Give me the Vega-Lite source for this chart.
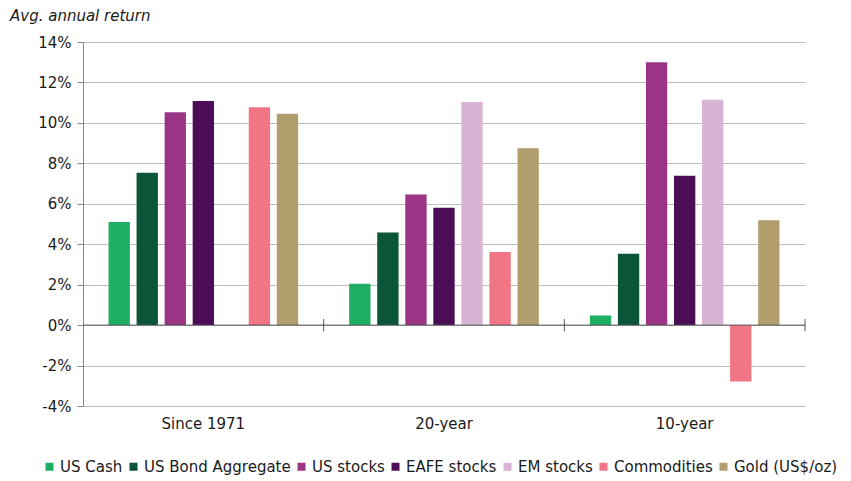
{
  "$schema": "https://vega.github.io/schema/vega-lite/v6.json",
  "width": 722,
  "height": 364,
  "autosize": {"type": "none"},
  "padding": {"left": 83, "top": 42, "right": 46, "bottom": 75},
  "background": "white",
  "title": {
    "text": "Avg. annual return",
    "anchor": "start",
    "frame": "group",
    "dx": -73,
    "offset": 11,
    "font": "DejaVu Sans",
    "fontSize": 15,
    "fontStyle": "italic",
    "fontWeight": "normal",
    "color": "#1a1a1a"
  },
  "config": {
    "view": {"stroke": null},
    "font": "DejaVu Sans"
  },
  "datasets": {
    "returns": [
      {"period": "Since 1971", "asset": "US Cash", "value": 5.1},
      {"period": "Since 1971", "asset": "US Bond Aggregate", "value": 7.53},
      {"period": "Since 1971", "asset": "US stocks", "value": 10.52},
      {"period": "Since 1971", "asset": "EAFE stocks", "value": 11.08},
      {"period": "Since 1971", "asset": "Commodities", "value": 10.77},
      {"period": "Since 1971", "asset": "Gold (US$/oz)", "value": 10.45},
      {"period": "20-year", "asset": "US Cash", "value": 2.04},
      {"period": "20-year", "asset": "US Bond Aggregate", "value": 4.58},
      {"period": "20-year", "asset": "US stocks", "value": 6.46},
      {"period": "20-year", "asset": "EAFE stocks", "value": 5.8},
      {"period": "20-year", "asset": "EM stocks", "value": 11.03},
      {"period": "20-year", "asset": "Commodities", "value": 3.61},
      {"period": "20-year", "asset": "Gold (US$/oz)", "value": 8.75},
      {"period": "10-year", "asset": "US Cash", "value": 0.48},
      {"period": "10-year", "asset": "US Bond Aggregate", "value": 3.53},
      {"period": "10-year", "asset": "US stocks", "value": 13.0},
      {"period": "10-year", "asset": "EAFE stocks", "value": 7.38},
      {"period": "10-year", "asset": "EM stocks", "value": 11.14},
      {"period": "10-year", "asset": "Commodities", "value": -2.79},
      {"period": "10-year", "asset": "Gold (US$/oz)", "value": 5.18}
    ],
    "periods": [
      {"period": "Since 1971"},
      {"period": "20-year"},
      {"period": "10-year"}
    ]
  },
  "layer": [
    {
      "data": {"name": "returns"},
      "mark": {"type": "bar"},
      "encoding": {
        "x": {
          "field": "period",
          "type": "nominal",
          "sort": ["Since 1971", "20-year", "10-year"],
          "scale": {"domain": ["Since 1971", "20-year", "10-year"], "paddingInner": 0, "paddingOuter": 0},
          "axis": {
            "title": null,
            "orient": "bottom",
            "labelAngle": 0,
            "domain": false,
            "ticks": false,
            "grid": false,
            "labelFont": "DejaVu Sans",
            "labelFontSize": 15,
            "labelColor": "#1a1a1a",
            "labelPadding": 10
          }
        },
        "xOffset": {
          "field": "asset",
          "type": "nominal",
          "scale": {
            "domain": ["US Cash", "US Bond Aggregate", "US stocks", "EAFE stocks", "EM stocks", "Commodities", "Gold (US$/oz)"],
            "paddingInner": 0.24,
            "paddingOuter": 0.91
          }
        },
        "y": {
          "field": "value",
          "type": "quantitative",
          "scale": {"domain": [-4, 14], "nice": false, "zero": false},
          "axis": {
            "title": null,
            "values": [-4, -2, 0, 2, 4, 6, 8, 10, 12, 14],
            "labelExpr": "datum.value + '%'",
            "labelFont": "DejaVu Sans",
            "labelFontSize": 15,
            "labelColor": "#1a1a1a",
            "labelPadding": 6,
            "tickSize": 6,
            "tickColor": "#888",
            "domainColor": "#888",
            "gridColor": "#bdbdbd",
            "grid": true
          }
        },
        "color": {
          "field": "asset",
          "type": "nominal",
          "scale": {
            "domain": ["US Cash", "US Bond Aggregate", "US stocks", "EAFE stocks", "EM stocks", "Commodities", "Gold (US$/oz)"],
            "range": ["#1fae66", "#0b5538", "#9a3585", "#4b0d55", "#d9b3d3", "#f27585", "#b29e6c"]
          },
          "legend": {
            "title": null,
            "orient": "none",
            "direction": "horizontal",
            "legendX": -41,
            "legendY": 417,
            "symbolType": "square",
            "symbolSize": 64,
            "symbolStrokeWidth": 0,
            "labelFont": "DejaVu Sans",
            "labelFontSize": 15,
            "labelColor": "#1a1a1a",
            "labelOffset": 3,
            "columnPadding": 3
          }
        }
      }
    },
    {
      "data": {"values": [{"z": 0}]},
      "mark": {"type": "rule", "color": "#555", "strokeWidth": 1},
      "encoding": {
        "y": {"field": "z", "type": "quantitative"}
      }
    },
    {
      "data": {"name": "periods"},
      "mark": {"type": "rule", "color": "#555", "strokeWidth": 1},
      "encoding": {
        "x": {"field": "period", "type": "nominal", "bandPosition": 1, "sort": ["Since 1971", "20-year", "10-year"]},
        "y": {"datum": 0.3},
        "y2": {"datum": -0.3}
      }
    }
  ]
}
